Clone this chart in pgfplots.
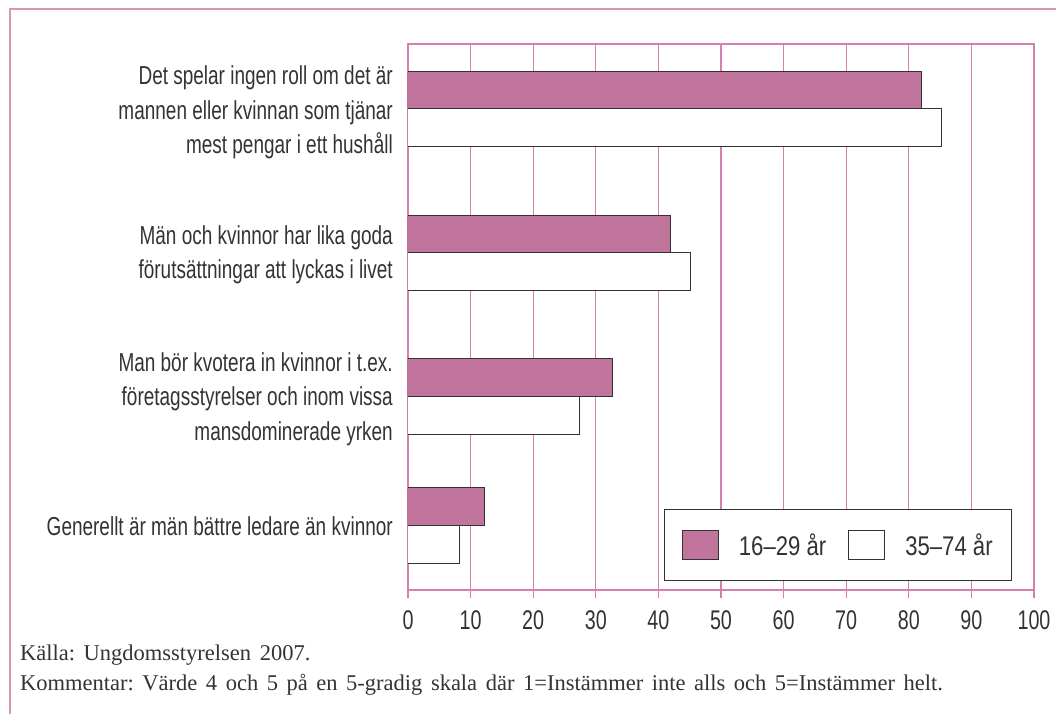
\documentclass[border=0pt]{standalone}
\usepackage{pgfplots}
\pgfplotsset{compat=1.18}
\usepackage{fontspec}
\setmainfont{Liberation Serif}
\newfontfamily\condfont[FakeStretch=0.73]{Liberation Sans}
\newfontfamily\legfont[FakeStretch=0.82]{Liberation Sans}
\definecolor{gridpink}{RGB}{214,126,172}
\definecolor{lightpink}{RGB}{232,176,204}
\definecolor{barpink}{RGB}{193,116,156}
\definecolor{txt}{RGB}{51,51,51}
\definecolor{framecol}{RGB}{214,150,185}
\begin{document}
\begin{tikzpicture}
\path[use as bounding box] (-408pt,-124pt) rectangle (648pt,590pt);
\draw[framecol, line width=1.5pt] (-398pt,-124pt) -- (-398pt,581pt) -- (648pt,581pt);
\begin{axis}[
  at={(0pt,0pt)}, anchor=south west,
  scale only axis, width=626pt, height=546pt,
  xmin=0, xmax=100, ymin=0, ymax=546,
  xbar, bar width=37.5,
  xtick={0,10,...,100},
  xtick pos=bottom,
  ytick={64,191,335,477.5},
  yticklabels={
    {Generellt är män bättre ledare än kvinnor},
    {Man bör kvotera in kvinnor i t.ex.\\företagsstyrelser och inom vissa\\mansdominerade yrken},
    {Män och kvinnor har lika goda\\förutsättningar att lyckas i livet},
    {Det spelar ingen roll om det är\\mannen eller kvinnan som tjänar\\mest pengar i ett hushåll}},
  axis line style={gridpink, line width=1.2pt},
  xmajorgrids, grid style={gridpink, line width=1.2pt},
  tick align=outside, major tick length=8pt,
  xtick style={gridpink, line width=1.2pt},
  ytick style={draw=none},
  /pgf/number format/assume math mode=true,
  xticklabel style={font=\condfont\fontsize{27}{30}\selectfont, text=txt, inner sep=0pt, yshift=-12pt},
  yticklabel style={font=\condfont\fontsize{26}{34.5}\selectfont, text=txt, align=right, inner sep=0pt, xshift=-7pt},
  legend style={at={(0.965,0.0165)}, anchor=south east, draw=txt, line width=0.8pt,
    font=\legfont\fontsize{27}{30}\selectfont, text=txt, legend columns=2,
    inner xsep=17pt, inner ysep=20.5pt,
    /tikz/every odd column/.append style={column sep=18pt},
    /tikz/every even column/.append style={column sep=20pt}},
  legend cell align=left,
  legend image code/.code={\draw[#1] (0pt,-14.5pt) rectangle (36pt,14.5pt);},
]
\addplot[fill=barpink, draw=txt, line width=1pt, bar shift=0pt] coordinates {(82,500) (42,356) (32.7,212.5) (12.2,83.5)};
\addplot[fill=white, draw=txt, line width=1pt, bar shift=0pt] coordinates {(85.2,462.5) (45.1,318.5) (27.4,174.5) (8.3,45.5)};
\legend{16–29 år, 35–74 år}
\end{axis}
\begin{scope}[every node/.style={anchor=west, font=\fontsize{22.5}{26}\selectfont, text=txt, inner sep=0pt}]
\node at (-388pt,-65pt) {\frenchspacing\spaceskip=0.38em plus 0.1em Källa: Ungdomsstyrelsen 2007.};
\node at (-388pt,-95pt) {\frenchspacing\spaceskip=0.38em plus 0.1em Kommentar: Värde 4 och 5 på en 5-gradig skala där 1=Instämmer inte alls och 5=Instämmer helt.};
\end{scope}
\end{tikzpicture}
\end{document}
